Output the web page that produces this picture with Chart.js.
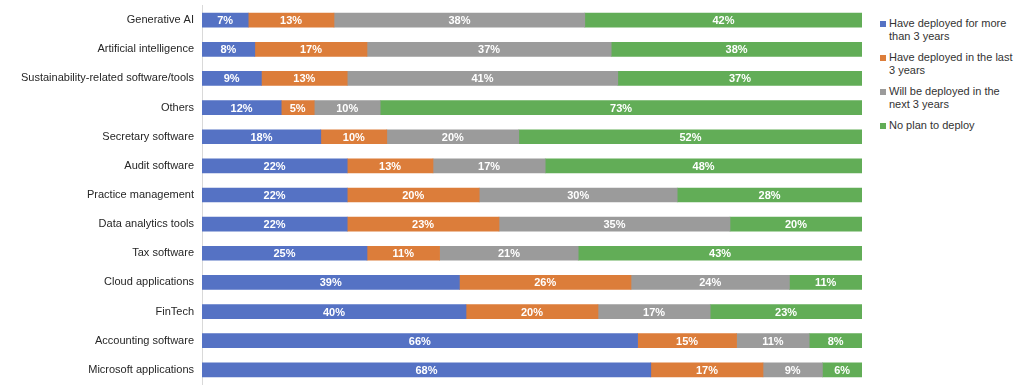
<!DOCTYPE html>
<html>
<head>
<meta charset="utf-8">
<script src="https://cdn.jsdelivr.net/npm/chart.js@4"></script>
<style>
    html, body { margin: 0; padding: 0; background: #fff; }
    body { width: 1024px; height: 390px; position: relative; overflow: hidden; font-family: "Liberation Sans", Arial, sans-serif; }
    #wrap { position: absolute; left: 0; top: -9px; width: 862px; height: 408px; }
    #legend { position: absolute; left: 880px; top: 17px; width: 140px; font-size: 11px; color: #333; line-height: 12.5px; }
    .item { position: relative; padding-left: 9px; margin-bottom: 9px; }
    .item .sw { position: absolute; left: 0; top: 4px; width: 6px; height: 6px; }
</style>
</head>
<body>
<div id="wrap"><canvas id="chart"></canvas></div>
<div id="legend"></div>
<script>
// Data
const categories = [
    'Generative AI', 'Artificial intelligence', 'Sustainability-related software/tools', 'Others',
    'Secretary software', 'Audit software', 'Practice management', 'Data analytics tools',
    'Tax software', 'Cloud applications', 'FinTech', 'Accounting software', 'Microsoft applications'
];
const deployedMore3 = [7, 8, 9, 12, 18, 22, 22, 22, 25, 39, 40, 66, 68];
const deployedLast3 = [13, 17, 13, 5, 10, 13, 20, 23, 11, 26, 20, 15, 17];
const willDeploy = [38, 37, 41, 10, 20, 17, 30, 35, 21, 24, 17, 11, 9];
const noPlan = [42, 38, 37, 73, 52, 48, 28, 20, 43, 11, 23, 8, 6];

const seriesNames = [
    ['Have deployed for more', 'than 3 years'],
    ['Have deployed in the last', '3 years'],
    ['Will be deployed in the', 'next 3 years'],
    ['No plan to deploy']
];
const colors = ['#5572c4', '#dc7d3a', '#9b9b9b', '#62ad57'];
const seriesData = [deployedMore3, deployedLast3, willDeploy, noPlan];

// Value labels inside the bars
const barLabels = {
    id: 'barLabels',
    afterDatasetsDraw(chart) {
        const ctx = chart.ctx;
        ctx.save();
        ctx.font = 'bold 11px "Liberation Sans", Arial, sans-serif';
        ctx.fillStyle = '#fff';
        ctx.textAlign = 'center';
        ctx.textBaseline = 'middle';
        chart.data.datasets.forEach((ds, i) => {
            chart.getDatasetMeta(i).data.forEach((bar, j) => {
                const left = Math.min(bar.x, bar.base);
                const right = Math.max(bar.x, bar.base);
                ctx.fillText(ds.data[j] + '%', (left + right) / 2, bar.y + 1);
            });
        });
        ctx.restore();
    }
};

new Chart(document.getElementById('chart').getContext('2d'), {
    type: 'bar',
    data: {
        labels: categories,
        datasets: seriesData.map((d, i) => ({
            label: seriesNames[i].join(' '),
            data: d,
            backgroundColor: colors[i],
            barThickness: 14
        }))
    },
    options: {
        indexAxis: 'y',
        responsive: true,
        maintainAspectRatio: false,
        animation: false,
        layout: { padding: 0 },
        plugins: { legend: { display: false }, tooltip: { enabled: false } },
        scales: {
            x: { stacked: true, min: 0, max: 100, display: false },
            y: {
                stacked: true,
                grid: { display: false, drawTicks: false, tickLength: 0 },
                border: { display: true, color: '#d9d9d9' },
                ticks: { color: '#262626', font: { size: 11, family: '"Liberation Sans", Arial, sans-serif' }, padding: 8 },
                afterFit(scale) { scale.width = 202; }
            }
        }
    },
    plugins: [barLabels]
});

// HTML legend
const legend = document.getElementById('legend');
seriesNames.forEach((lines, i) => {
    const div = document.createElement('div');
    div.className = 'item';
    div.innerHTML = `<span class="sw" style="background:${colors[i]}"></span>${lines.join('<br>')}`;
    legend.appendChild(div);
});
</script>
</body>
</html>
